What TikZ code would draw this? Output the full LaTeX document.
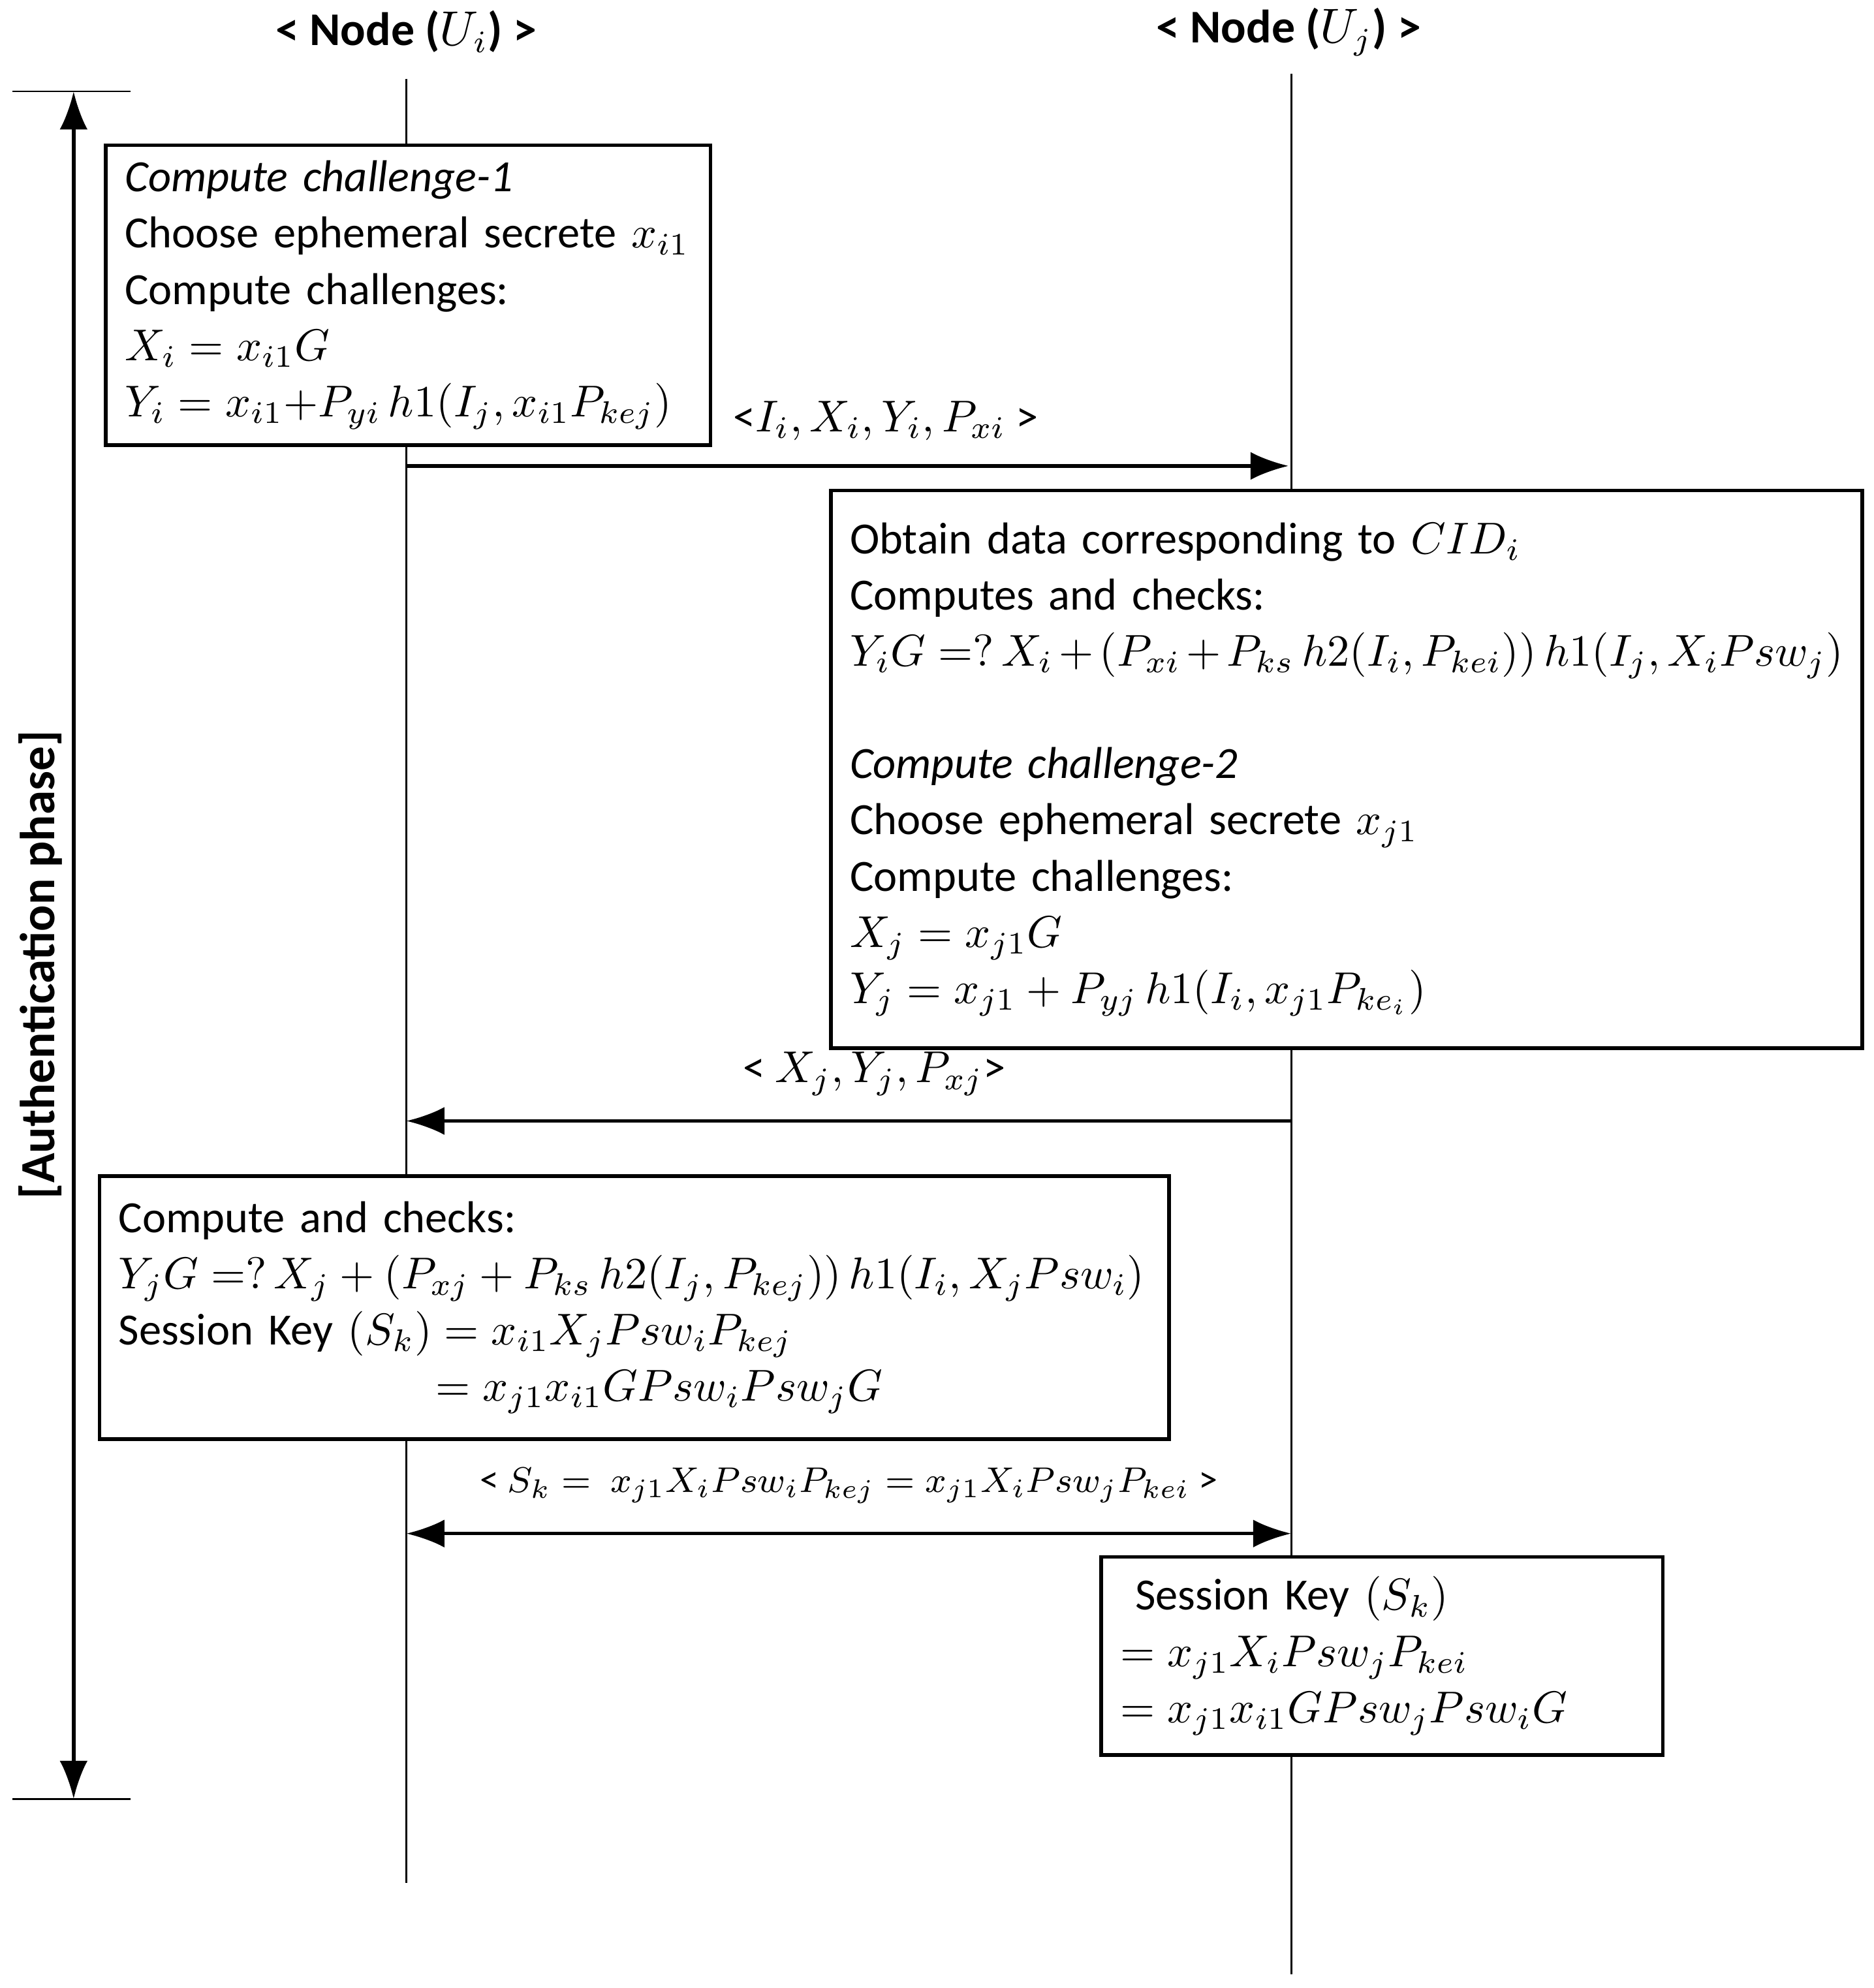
\documentclass[tikz,border=0pt]{standalone}
\usepackage{fontspec}
\setmainfont{Carlito}
\usetikzlibrary{arrows.meta,positioning}
\tikzset{
  box/.style={draw,thick,fill=white,anchor=north west,inner xsep=0.15cm,inner ysep=0pt,align=left,font=\fontsize{10}{12.6}\selectfont},
  msg/.style={thick,-{Latex[length=3mm,width=2.2mm]}},
  life/.style={thin},
  head/.style={font=\bfseries\fontsize{10.5}{12}\selectfont}
}
\begin{document}
\begin{tikzpicture}[x=0.01cm,y=-0.01cm]
\useasboundingbox (0,0) rectangle (1476,1566);
% headers and lifelines
\node[head] (hi) at (320,25) {< Node ($U_i$) >};
\node[head] (hj) at (1015,25) {< Node ($U_j$) >};
\coordinate (it) at (320,62);  \coordinate (ib) at (320,1483);
\coordinate (jt) at (1017,58); \coordinate (jb) at (1017,1555);
\draw[life] (it) -- (ib);
\draw[life] (jt) -- (jb);
% phase bracket
\coordinate (pt) at (58,72); \coordinate (pb) at (58,1417);
\draw (10,72) -- (103,72);
\draw (10,1417) -- (103,1417);
\draw[thick,{Latex[length=3mm,width=2.2mm]}-{Latex[length=3mm,width=2.2mm]}] (pt) -- (pb);
\node[rotate=90,font=\bfseries\fontsize{11}{12}\selectfont] (phase) at (32,760) {[Authentication phase]};
% boxes
\node[box,minimum width=4.76cm,minimum height=2.36cm,text width=4.46cm] (c1) at (82,113) {%
  \textit{Compute challenge-1}\\
  Choose ephemeral secrete $x_{i1}$\\
  Compute challenges:\\
  $X_i = x_{i1}G$\\
  $Y_i = x_{i1}{+}P_{yi}\,h1(I_j, x_{i1}P_{kej})$};
\node[box,minimum width=8.12cm,minimum height=4.39cm,text width=7.82cm] (c2) at (653,385) {%
  Obtain data corresponding to $CID_i$\\
  Computes and checks:\\
  $Y_iG=?\,X_i+(P_{xi}+P_{ks}\,h2(I_i,P_{kei}))\,h1(I_j,X_iPsw_j)$\\[12.6pt]
  \textit{Compute challenge-2}\\
  Choose ephemeral secrete $x_{j1}$\\
  Compute challenges:\\
  $X_j = x_{j1}G$\\
  $Y_j = x_{j1}+P_{yj}\,h1(I_i, x_{j1}P_{ke_i})$};
\node[box,minimum width=8.42cm,minimum height=2.07cm,text width=8.12cm] (c3) at (77,925) {%
  Compute and checks:\\
  $Y_jG=?\,X_j+(P_{xj}+P_{ks}\,h2(I_j,P_{kej}))\,h1(I_i,X_jPsw_i)$\\
  Session Key $(S_k) = x_{i1}X_jPsw_iP_{kej}$\\
  \hspace*{7.1em}$= x_{j1}x_{i1}GPsw_iPsw_jG$};
\node[box,minimum width=4.42cm,minimum height=1.56cm,text width=4.12cm] (c4) at (866,1225) {%
  \ Session Key $(S_k)$\\
  $= x_{j1}X_iPsw_jP_{kei}$\\
  $= x_{j1}x_{i1}GPsw_jPsw_iG$};
% messages
\coordinate (m1s) at (320,367); \coordinate (m1e) at (1015,367);
\draw[msg] (m1s) -- node[above=2pt,xshift=0.3cm,font=\fontsize{10}{12}\selectfont]{<$I_i, X_i, Y_i, P_{xi}$ >} (m1e);
\coordinate (m2s) at (1017,883); \coordinate (m2e) at (320,883);
\draw[msg] (m2s) -- node[above=2pt,xshift=0.2cm,font=\fontsize{10}{12}\selectfont]{< $X_j, Y_j, P_{xj}$>} (m2e);
\coordinate (m3s) at (320,1208); \coordinate (m3e) at (1017,1208);
\draw[msg,{Latex[length=3mm,width=2.2mm]}-{Latex[length=3mm,width=2.2mm]}] (m3s) -- node[above=3pt,font=\fontsize{8.5}{10}\selectfont]{< $S_k =\ x_{j1}X_iPsw_iP_{kej} = x_{j1}X_iPsw_jP_{kei}$ >} (m3e);
\end{tikzpicture}
\end{document}
